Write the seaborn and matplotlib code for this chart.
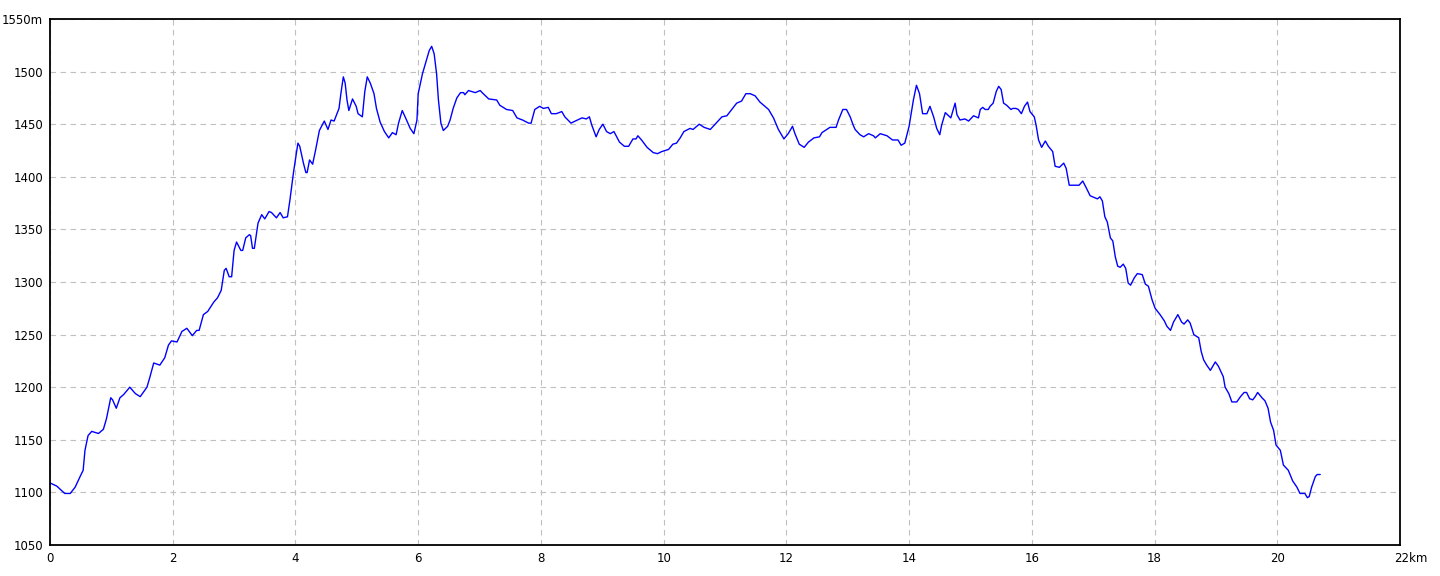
import pandas as pd
import seaborn as sns
import matplotlib.pyplot as plt
import matplotlib.transforms as mtransforms

# elevation profile
distance_km = [
    0.00, 0.11, 0.24, 0.33, 0.41, 0.49, 0.54, 0.57, 0.62, 0.68, 0.79, 0.87, 0.92, 0.99,
    1.02, 1.08, 1.14, 1.20, 1.30, 1.39, 1.47, 1.58, 1.63, 1.69, 1.79, 1.87, 1.93, 1.98,
    2.07, 2.15, 2.23, 2.32, 2.39, 2.43, 2.50, 2.57, 2.67, 2.73, 2.79, 2.84, 2.87, 2.92, 2.96,
    3.00, 3.04, 3.11, 3.14, 3.19, 3.25, 3.27, 3.30, 3.33, 3.39, 3.45, 3.50, 3.57, 3.61,
    3.69, 3.75, 3.80, 3.87, 3.91, 3.97, 4.04, 4.07, 4.13, 4.17, 4.19, 4.23, 4.28, 4.33,
    4.39, 4.47, 4.53, 4.58, 4.63, 4.67, 4.71, 4.74, 4.78, 4.81, 4.84, 4.87, 4.93, 4.99,
    5.02, 5.09, 5.13, 5.17, 5.22, 5.28, 5.32, 5.38, 5.45, 5.52, 5.58, 5.64, 5.68, 5.74,
    5.81, 5.87, 5.93, 5.98, 6.00, 6.07, 6.12, 6.18, 6.22, 6.26, 6.30, 6.33, 6.37, 6.41,
    6.48, 6.52, 6.57, 6.63, 6.69, 6.74, 6.76, 6.82, 6.93, 7.01, 7.06, 7.15, 7.28, 7.33,
    7.44, 7.54, 7.61, 7.70, 7.80, 7.84, 7.90, 7.98, 8.04, 8.12, 8.17, 8.25, 8.34, 8.39,
    8.49, 8.56, 8.67, 8.74, 8.79, 8.83, 8.90, 8.95, 9.01, 9.07, 9.13, 9.19, 9.28, 9.36,
    9.43, 9.50, 9.55, 9.58, 9.64, 9.73, 9.83, 9.90, 9.97, 10.08, 10.15, 10.21, 10.27,
    10.33, 10.43, 10.48, 10.58, 10.66, 10.76, 10.87, 10.95, 11.03, 11.11, 11.19, 11.27,
    11.34, 11.41, 11.49, 11.57, 11.71, 11.79, 11.87, 11.96, 12.03, 12.10, 12.14, 12.21,
    12.29, 12.36, 12.45, 12.54, 12.58, 12.66, 12.71, 12.81, 12.85, 12.92, 12.98, 13.04,
    13.09, 13.12, 13.20, 13.26, 13.34, 13.42, 13.45, 13.53, 13.64, 13.73, 13.82, 13.87,
    13.93, 14.00, 14.07, 14.12, 14.17, 14.22, 14.29, 14.34, 14.40, 14.45, 14.50, 14.53,
    14.59, 14.68, 14.75, 14.78, 14.83, 14.91, 14.97, 15.05, 15.13, 15.16, 15.20, 15.24,
    15.29, 15.32, 15.37, 15.42, 15.46, 15.50, 15.54, 15.59, 15.66, 15.69, 15.74, 15.78,
    15.83, 15.88, 15.93, 15.97, 16.04, 16.07, 16.11, 16.16, 16.22, 16.27, 16.34, 16.38,
    16.45, 16.52, 16.56, 16.61, 16.73, 16.77, 16.83, 16.90, 16.95, 17.03, 17.07, 17.11,
    17.15, 17.19, 17.23, 17.28, 17.32, 17.36, 17.40, 17.44, 17.49, 17.53, 17.57, 17.61,
    17.67, 17.72, 17.80, 17.85, 17.90, 17.96, 18.01, 18.09, 18.16, 18.20, 18.26, 18.31,
    18.38, 18.44, 18.48, 18.54, 18.58, 18.64, 18.72, 18.76, 18.80, 18.85, 18.91, 18.99,
    19.04, 19.12, 19.15, 19.21, 19.26, 19.34, 19.40, 19.46, 19.50, 19.55, 19.60, 19.64,
    19.68, 19.75, 19.80, 19.85, 19.89, 19.94, 19.98, 20.05, 20.10, 20.18, 20.25, 20.32,
    20.37, 20.45, 20.49, 20.52, 20.56, 20.62, 20.65, 20.70,
]
elevation_m = [
    1109, 1106, 1099, 1099, 1105, 1115, 1121, 1140, 1154, 1158, 1156, 1160, 1170, 1190,
    1188, 1180, 1190, 1193, 1200, 1194, 1191, 1200, 1210, 1223, 1221, 1228, 1240, 1244,
    1243, 1253, 1256, 1249, 1254, 1254, 1269, 1272, 1281, 1285, 1292, 1311, 1313, 1305, 1305,
    1330, 1338, 1330, 1330, 1342, 1345, 1344, 1332, 1332, 1356, 1364, 1360, 1367, 1366,
    1361, 1366, 1361, 1362, 1378, 1405, 1432, 1429, 1413, 1404, 1404, 1416, 1412, 1426,
    1444, 1453, 1445, 1454, 1453, 1459, 1465, 1479, 1495, 1489, 1473, 1463, 1474, 1467,
    1460, 1457, 1481, 1495, 1489, 1479, 1465, 1452, 1443, 1437, 1442, 1440, 1451, 1463,
    1454, 1446, 1441, 1454, 1479, 1498, 1508, 1520, 1524, 1517, 1498, 1473, 1451, 1444,
    1448, 1454, 1465, 1475, 1480, 1480, 1478, 1482, 1480, 1482, 1479, 1474, 1473, 1468,
    1464, 1463, 1456, 1454, 1451, 1451, 1464, 1467, 1465, 1466, 1460, 1460, 1462, 1457,
    1451, 1453, 1456, 1455, 1457, 1449, 1438, 1445, 1450, 1443, 1441, 1443, 1433, 1429,
    1429, 1436, 1436, 1439, 1435, 1428, 1423, 1422, 1424, 1426, 1431, 1432, 1437,
    1443, 1446, 1445, 1450, 1447, 1445, 1452, 1457, 1458, 1464, 1470, 1472,
    1479, 1479, 1477, 1471, 1464, 1456, 1445, 1436, 1441, 1448, 1441, 1431,
    1428, 1433, 1437, 1438, 1442, 1445, 1447, 1447, 1454, 1464, 1464, 1457,
    1449, 1445, 1440, 1438, 1441, 1439, 1437, 1441, 1439, 1435, 1435, 1430,
    1432, 1448, 1473, 1487, 1479, 1460, 1460, 1467, 1457, 1446, 1440, 1449,
    1461, 1456, 1470, 1459, 1454, 1455, 1453, 1458, 1456, 1464, 1466, 1464,
    1464, 1467, 1470, 1481, 1486, 1483, 1470, 1468, 1464, 1465, 1465, 1464,
    1460, 1467, 1471, 1462, 1457, 1449, 1435, 1428, 1434, 1429, 1424, 1410,
    1409, 1413, 1408, 1392, 1392, 1392, 1396, 1388, 1382, 1380, 1379, 1381,
    1377, 1362, 1357, 1342, 1339, 1324, 1315, 1314, 1317, 1313, 1299, 1297,
    1304, 1308, 1307, 1298, 1296, 1283, 1275, 1269, 1263, 1258, 1254, 1262,
    1269, 1262, 1260, 1264, 1261, 1250, 1247, 1234, 1226, 1221, 1216, 1224,
    1220, 1210, 1200, 1194, 1186, 1186, 1191, 1195, 1195, 1189, 1188, 1191,
    1195, 1190, 1187, 1180, 1167, 1159, 1145, 1140, 1126, 1121, 1111, 1105,
    1099, 1099, 1095, 1096, 1105, 1115, 1117, 1117,
]

x_ticks = list(range(0, 23, 2))
x_labels = [str(t) for t in x_ticks[:-1]] + ["22km"]
y_ticks = list(range(1050, 1551, 50))
y_labels = [str(t) for t in y_ticks[:-1]] + ["1550m"]

df = pd.DataFrame({"distance": distance_km, "elevation": elevation_m})

sns.set_style("white")
plt.rcParams["font.family"] = ["DejaVu Sans"]

fig = plt.figure(figsize=(14.4, 5.76), dpi=100)
ax = fig.add_axes([50 / 1440, 31 / 576, 1350 / 1440, 526 / 576])

sns.lineplot(data=df, x="distance", y="elevation", ax=ax, color="#0000ff",
             linewidth=1.0, sort=False, estimator=None)

ax.set_xlim(0, 22)
ax.set_ylim(1050, 1550)
ax.set_xticks(x_ticks)
ax.set_xticklabels(x_labels)
ax.set_yticks(y_ticks)
ax.set_yticklabels(y_labels)
ax.set_xlabel("")
ax.set_ylabel("")

ax.grid(True, color="#c0c0c0", linestyle=(0, (5, 4)), linewidth=0.8)
ax.tick_params(axis="both", length=0, labelsize=8.5, colors="black", pad=5)
for s in ax.spines.values():
    s.set_color("black")
    s.set_linewidth(1.3)

# "22km" starts near the tick instead of being centred on it
last = ax.get_xticklabels()[-1]
last.set_horizontalalignment("left")
last.set_transform(last.get_transform() + mtransforms.ScaledTranslation(-6 / 100, 0, fig.dpi_scale_trans))

plt.savefig("out.png", dpi=100)
